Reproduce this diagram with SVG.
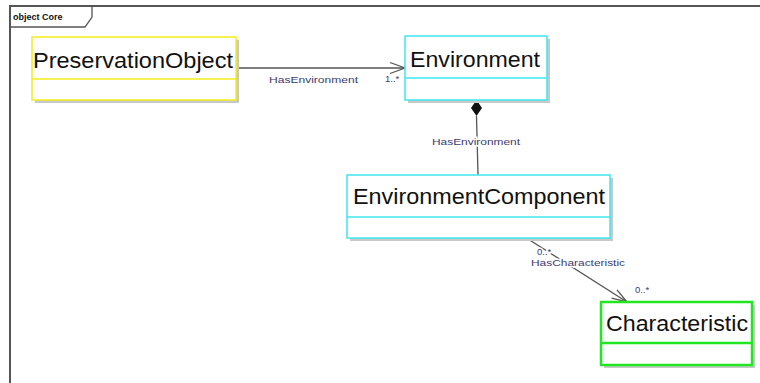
<svg xmlns="http://www.w3.org/2000/svg" width="760" height="383" viewBox="0 0 760 383">
<defs>
<style>
.cls{font-family:"Liberation Sans",Arial,sans-serif;font-size:22px;fill:#111}
.lbl{font-family:"Liberation Sans",Arial,sans-serif;font-size:9.5px;fill:#3c3c6e}
.shadow{fill:#c8c8c8}
.box{fill:#fff}
.yel{stroke:#f2ee1a;stroke-width:1.5}
.cyan{stroke:#3ee8ee;stroke-width:1.5}
.grn{stroke:#22e622;stroke-width:2.5}
.conn{stroke:#555;stroke-width:1.3;fill:none}
.halo{stroke:#fff;stroke-width:3;paint-order:stroke}
</style>
</defs>
<rect width="760" height="383" fill="#fff"/>
<g id="frame">
<path d="M10,383 V6 H760" fill="none" stroke="#555" stroke-width="2"/>
<path d="M10,27 H85 L92,17 V6" fill="none" stroke="#555" stroke-width="1.3"/>
<text x="13" y="20" style="font-family:'Liberation Sans',Arial,sans-serif;font-size:9px;font-weight:bold;fill:#111">object Core</text>
</g>
<g id="connectors">
<line class="conn" x1="236" y1="68" x2="404" y2="68"/>
<polyline class="conn" points="390,62.5 405,68 390,73.5"/>
<line class="conn" x1="476.5" y1="116" x2="478" y2="175"/>
<polygon points="476.5,100 482,108 476.5,116 471,108" fill="#111"/>
<line class="conn" x1="528" y1="239" x2="627" y2="302"/>
<polyline class="conn" points="611.6,298.2 627,302 617,289.8"/>
<text class="lbl" x="269" y="83" textLength="89" lengthAdjust="spacingAndGlyphs">HasEnvironment</text>
<text class="lbl" x="385" y="82">1..*</text>
<text class="lbl halo" x="432" y="145" textLength="88" lengthAdjust="spacingAndGlyphs">HasEnvironment</text>
<text class="lbl halo" x="537" y="255">0..*</text>
<text class="lbl halo" x="531" y="266" textLength="94" lengthAdjust="spacingAndGlyphs">HasCharacteristic</text>
<text class="lbl" x="635" y="293">0..*</text>
</g>
<g id="PreservationObject">
<rect class="shadow" x="35" y="40" width="204" height="63"/>
<rect class="box yel" x="32" y="37" width="204" height="63"/>
<line class="yel" x1="32" y1="79" x2="236" y2="79"/>
<text class="cls" x="33" y="68" textLength="200" lengthAdjust="spacingAndGlyphs">PreservationObject</text>
</g>
<g id="Environment">
<rect class="shadow" x="408" y="39" width="142" height="64"/>
<rect class="box cyan" x="405" y="36" width="142" height="64"/>
<line class="cyan" x1="405" y1="78" x2="547" y2="78"/>
<text class="cls" x="410" y="67" textLength="130" lengthAdjust="spacingAndGlyphs">Environment</text>
</g>
<g id="EnvironmentComponent">
<rect class="shadow" x="350" y="178" width="263" height="63"/>
<rect class="box cyan" x="347" y="175" width="263" height="63"/>
<line class="cyan" x1="347" y1="217" x2="610" y2="217"/>
<text class="cls" x="353" y="204" textLength="252" lengthAdjust="spacingAndGlyphs">EnvironmentComponent</text>
</g>
<g id="Characteristic">
<rect class="shadow" x="604" y="305" width="151" height="63"/>
<rect class="box grn" x="601" y="302" width="151" height="63"/>
<line class="grn" x1="601" y1="343" x2="752" y2="343"/>
<text class="cls" x="606" y="331" textLength="142" lengthAdjust="spacingAndGlyphs">Characteristic</text>
</g>
</svg>
